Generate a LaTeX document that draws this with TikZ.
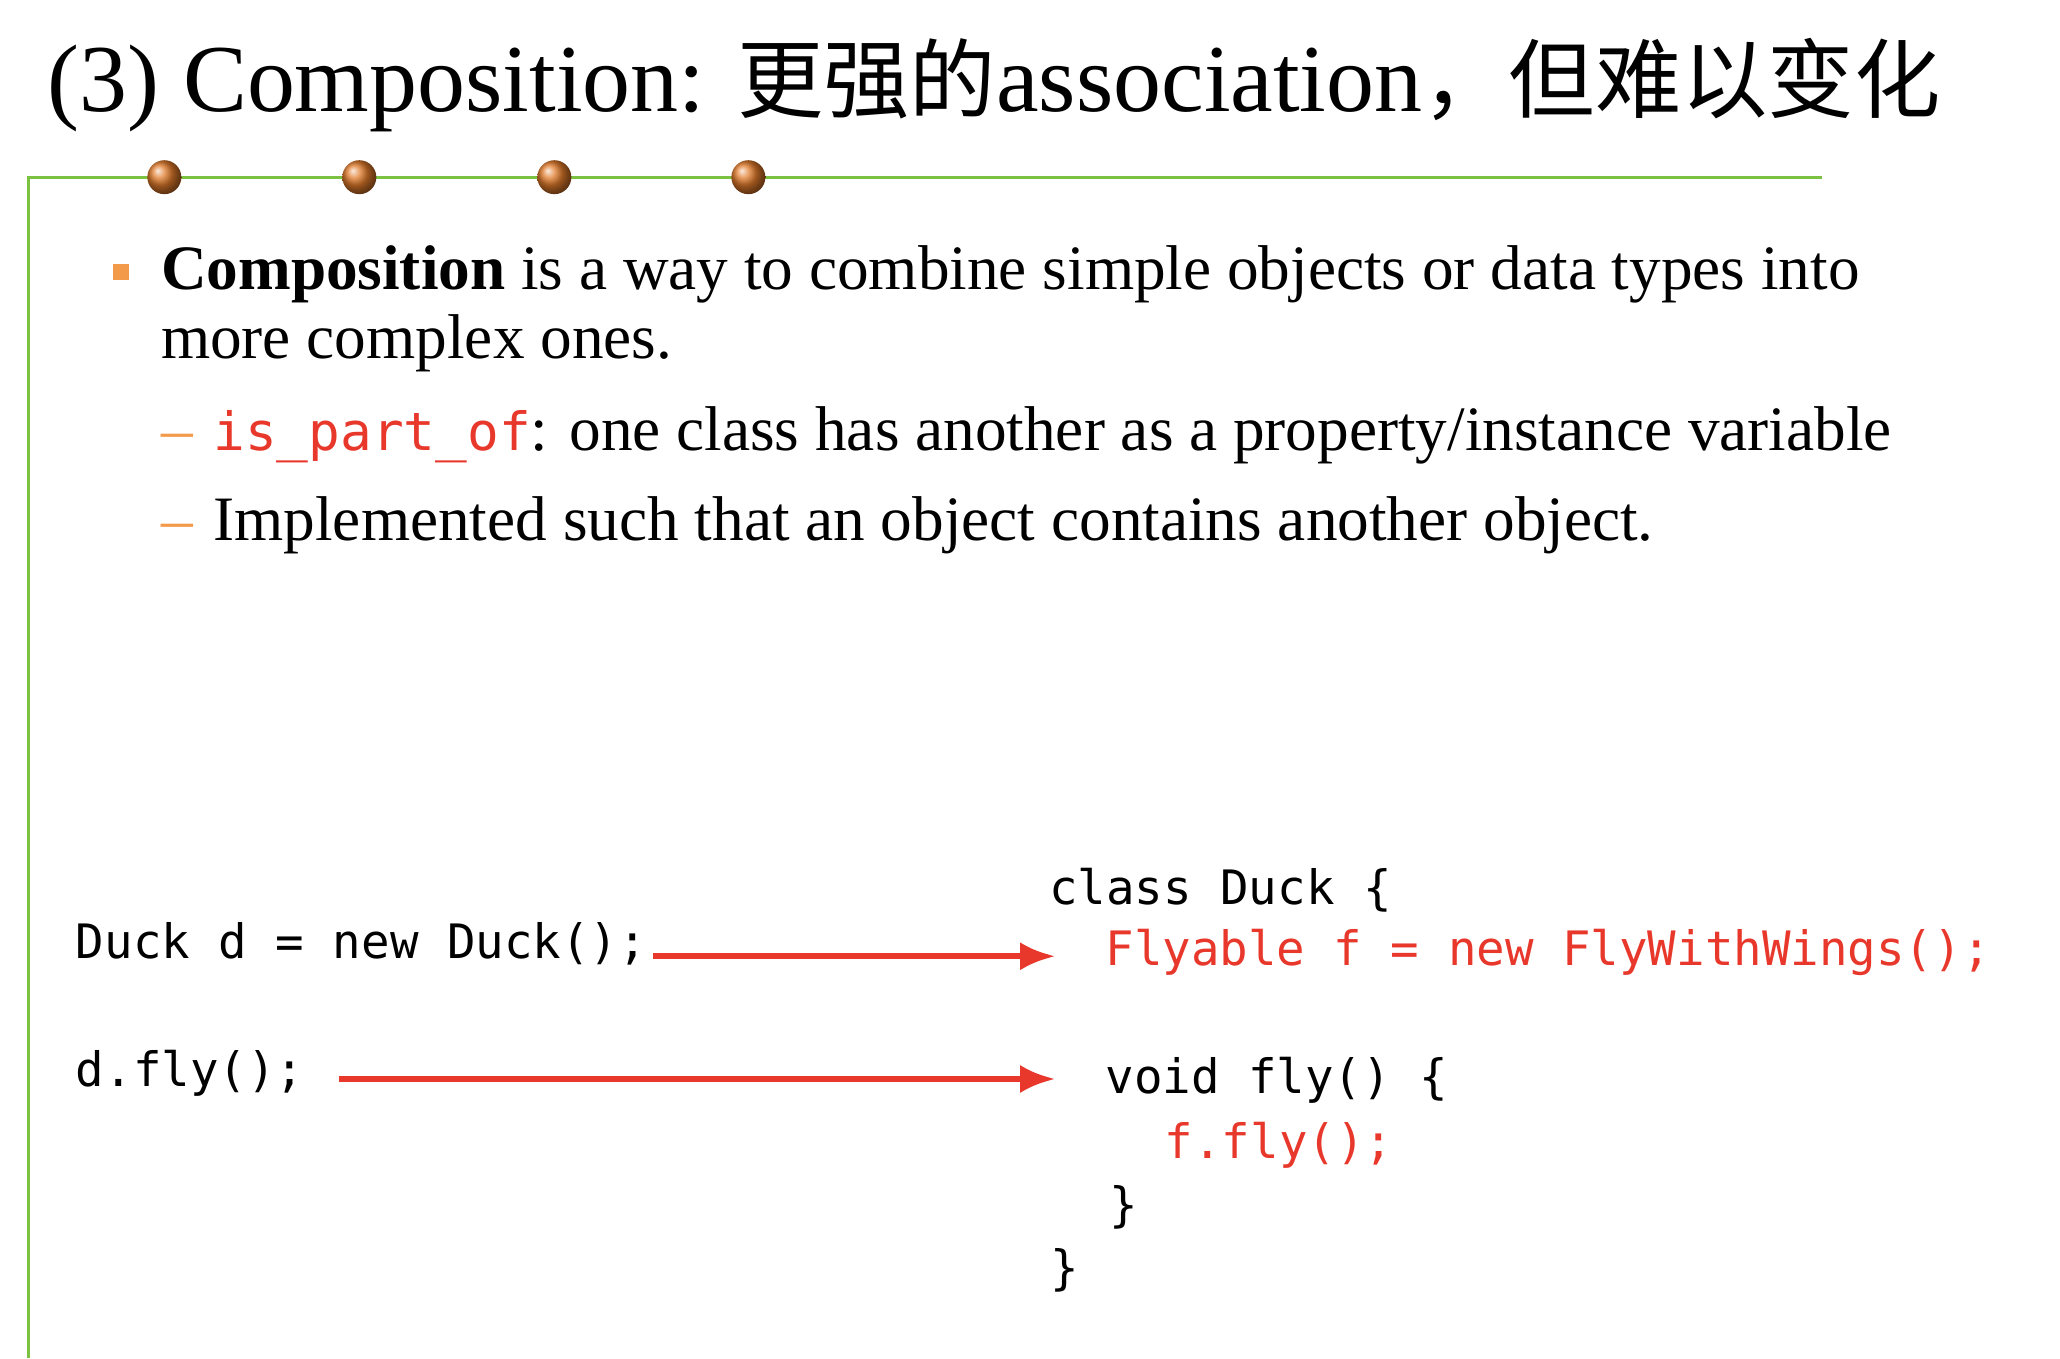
\documentclass[tikz,border=0pt]{standalone}
\usepackage{fontspec}
\usetikzlibrary{arrows.meta}
\newfontfamily\serif{Liberation Serif}
\newfontfamily\cjk{Noto Sans CJK SC}[Scale=0.9]
\newfontfamily\code{DejaVu Sans Mono}
\definecolor{cred}{HTML}{E8372B}
\definecolor{cgreen}{HTML}{7CC242}
\definecolor{corange}{HTML}{E07A2A}
\definecolor{bsq}{HTML}{F29A4A}
\begin{document}
\begin{tikzpicture}[x=0.0099cm,y=-0.0099cm,
  txt/.style={anchor=base west,inner sep=0,font=\serif\fontsize{18}{21}\selectfont},
  cd/.style={anchor=base west,inner sep=0,font=\code\fontsize{13.5}{16}\selectfont},
  arr/.style={draw=cred,line width=1.8pt,-{Latex[length=10pt,width=8pt]}},
  dot/.style={circle,minimum size=0.34cm,inner sep=0,ball color=corange,draw=none}]
\useasboundingbox (0,0) rectangle (2081,1372);
\node[anchor=base west,inner sep=0,font=\serif\fontsize{27.3}{30}\selectfont] (title) at (47,113) {(3) Composition: {\cjk 更强的}association{\cjk ，但难以变化}};
\draw[cgreen,line width=0.8pt] (1841,179) -- (29,179) -- (29,1372);
\foreach \x/\n in {166/d1,363/d2,560/d3,756/d4} \node[dot] (\n) at (\x,179) {};
\node[fill=bsq,minimum size=0.16cm,inner sep=0] (sq) at (122,275) {};
\node[txt] (l1) at (162,292) {\textbf{Composition} is a way to combine simple objects or data types into};
\node[txt] (l2) at (162,362) {more complex ones.};
\node[txt,text=bsq] (da) at (162,455) {–};
\node[txt] (l3) at (215,455) {{\code\fontsize{15}{16}\selectfont\color{cred}is\_part\_of}: one class has another as a property/instance variable};
\node[txt,text=bsq] (db) at (162,546) {–};
\node[txt] (l4) at (215,546) {Implemented such that an object contains another object.};
\node[cd] (c1) at (1059,914) {class Duck \{};
\node[cd,text=cred] (c2) at (1116,975) {Flyable f = new FlyWithWings();};
\node[cd] (m1) at (76,968) {Duck d = new Duck();};
\node[cd] (m2) at (76,1098) {d.fly();};
\node[cd] (c3) at (1116,1105) {void fly() \{};
\node[cd,text=cred] (c4) at (1176,1170) {f.fly();};
\node[cd] (c5) at (1120,1234) {\}};
\node[cd] (c6) at (1060,1298) {\}};
\coordinate (a1) at (660,966); \coordinate (b1) at (1066,966);
\coordinate (a2) at (342,1090); \coordinate (b2) at (1066,1090);
\draw[arr] (a1) -- (b1);
\draw[arr] (a2) -- (b2);
\end{tikzpicture}
\end{document}
